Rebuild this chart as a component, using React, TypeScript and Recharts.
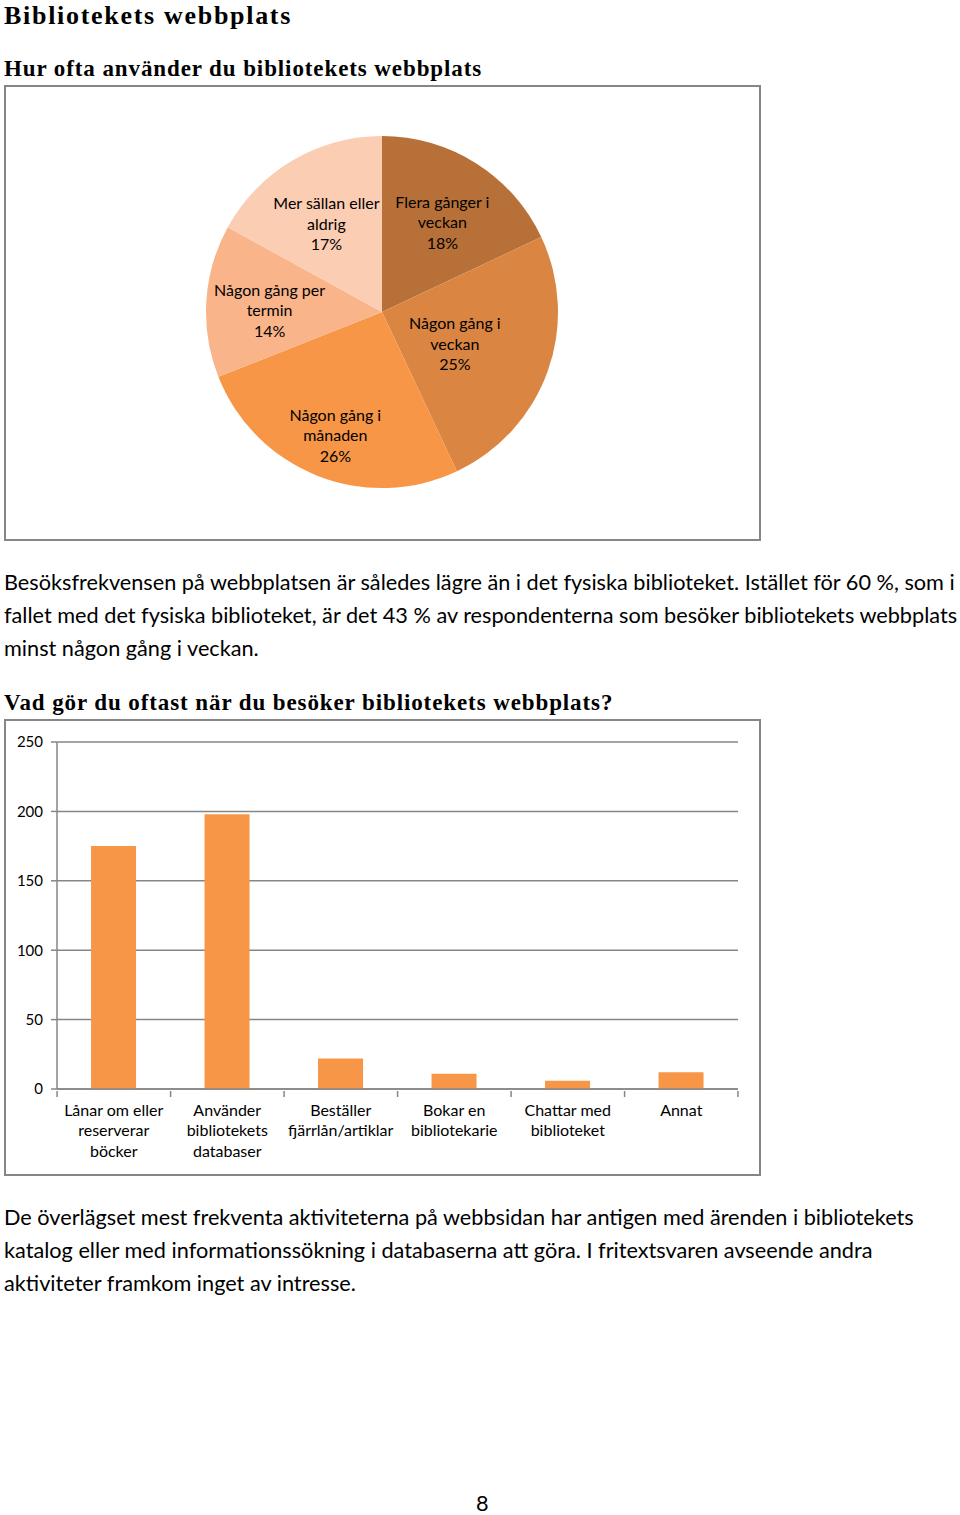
import React from "react";
import {
  PieChart,
  Pie,
  Cell,
  BarChart,
  Bar,
  XAxis,
  YAxis,
  CartesianGrid,
} from "recharts";

// pie: how often the library website is used
const freqLabels = [
  "Flera gånger i\nveckan",
  "Någon gång i\nveckan",
  "Någon gång i\nmånaden",
  "Någon gång per\ntermin",
  "Mer sällan eller\naldrig",
];
const freqShare = [18, 25, 26, 14, 17];

// bars: what people do on the website
const activityLabels = [
  "Lånar om eller\nreserverar\nböcker",
  "Använder\nbibliotekets\ndatabaser",
  "Beställer\nfjärrlån/artiklar",
  "Bokar en\nbibliotekarie",
  "Chattar med\nbiblioteket",
  "Annat",
];
const activityCount = [175, 198, 22, 11, 6, 12];
const yTicks = [0, 50, 100, 150, 200, 250];

const pieColors = ["#B77138", "#DA8541", "#F79646", "#F9B48A", "#FBCDB3"];
// excel "best fit" puts the labels at different depths
const labelDepth = [0.64, 0.44, 0.72, 0.64, 0.62];
const GRAY = "#868686";
const SANS = "Lato, 'Open Sans', sans-serif";
const SERIF = "'Liberation Serif', serif";

const pieData = freqLabels.map((name, i) => ({ name, value: freqShare[i] }));
const barData = activityLabels.map((name, i) => ({ name, value: activityCount[i] }));

const RADIAN = Math.PI / 180;

function PieLabel(props: any) {
  const { cx, cy, midAngle, outerRadius, index, name, value } = props;
  const r = outerRadius * labelDepth[index];
  const x = cx + r * Math.cos(-midAngle * RADIAN);
  const y = cy + r * Math.sin(-midAngle * RADIAN) + 5;
  const lines = [...String(name).split("\n"), value + "%"];
  const lh = 20.5;
  const y0 = y - ((lines.length - 1) * lh) / 2;
  return (
    <text x={x} y={y0} textAnchor="middle" fontFamily={SANS} fontSize={16} fill="#000">
      {lines.map((l, k) => (
        <tspan key={k} x={x} y={y0 + k * lh} dominantBaseline="central">
          {l}
        </tspan>
      ))}
    </text>
  );
}

const BAND = 680 / activityLabels.length;

function XTick(props: any) {
  const { x, y, payload, index } = props;
  const lines = String(payload.value).split("\n");
  const left = x - BAND / 2;
  return (
    <g>
      <line x1={left} x2={left} y1={y - 8} y2={y - 2} stroke={GRAY} strokeWidth={1.5} />
      {index === activityLabels.length - 1 && (
        <line x1={x + BAND / 2} x2={x + BAND / 2} y1={y - 8} y2={y - 2} stroke={GRAY} strokeWidth={1.5} />
      )}
      <text x={x} y={y} textAnchor="middle" fontFamily={SANS} fontSize={16} fill="#000">
        {lines.map((l, k) => (
          <tspan key={k} x={x} y={y + 10 + k * 20.5} dominantBaseline="central">
            {l}
          </tspan>
        ))}
      </text>
    </g>
  );
}

const box: React.CSSProperties = {
  position: "absolute",
  border: `2px solid ${GRAY}`,
  boxSizing: "border-box",
  background: "#fff",
};

const para: React.CSSProperties = {
  position: "absolute",
  left: 4,
  fontFamily: SANS,
  fontSize: 21.7,
  color: "#000",
  whiteSpace: "nowrap",
  lineHeight: "33px",
};

const heading: React.CSSProperties = {
  position: "absolute",
  left: 4,
  fontFamily: SERIF,
  fontWeight: "bold",
  fontSize: 23,
  lineHeight: "23px",
  letterSpacing: 0.9,
  whiteSpace: "nowrap",
};

export default function App() {
  return (
    <div
      style={{
        position: "absolute",
        left: 0,
        top: 0,
        width: 960,
        height: 1515,
        background: "#fff",
        overflow: "hidden",
      }}
    >
      <div style={{ ...heading, top: 1, fontSize: 26, lineHeight: "29px", letterSpacing: 1.7 }}>
        Bibliotekets webbplats
      </div>
      <div style={{ ...heading, top: 57 }}>Hur ofta använder du bibliotekets webbplats</div>

      <div style={{ ...box, left: 4, top: 85, width: 757, height: 456 }}>
        <PieChart width={753} height={452}>
          <Pie
            data={pieData}
            dataKey="value"
            nameKey="name"
            cx={371}
            cy={220}
            outerRadius={176}
            startAngle={90}
            endAngle={-270}
            stroke="none"
            labelLine={false}
            label={PieLabel}
            isAnimationActive={false}
          >
            {pieData.map((d, i) => (
              <Cell key={d.name} fill={pieColors[i]} />
            ))}
          </Pie>
        </PieChart>
      </div>

      <div style={{ ...para, top: 566 }}>
        Besöksfrekvensen på webbplatsen är således lägre än i det fysiska biblioteket. Istället för 60 %, som i
        <br />
        fallet med det fysiska biblioteket, är det 43 % av respondenterna som besöker bibliotekets webbplats
        <br />
        minst någon gång i veckan.
      </div>

      <div style={{ ...heading, top: 691 }}>Vad gör du oftast när du besöker bibliotekets webbplats?</div>

      <div style={{ ...box, left: 4, top: 719, width: 757, height: 457 }}>
        <BarChart
          width={753}
          height={453}
          data={barData}
          margin={{ top: 21, right: 21, left: 0, bottom: 15 }}
          barCategoryGap="30%"
        >
          <CartesianGrid vertical={false} stroke={GRAY} strokeWidth={1.5} />
          <XAxis
            dataKey="name"
            interval={0}
            height={70}
            axisLine={{ stroke: GRAY, strokeWidth: 1.5 }}
            tickLine={false}
            tickSize={8}
            tick={<XTick />}
          />
          <YAxis
            width={51}
            domain={[0, 250]}
            ticks={yTicks}
            axisLine={{ stroke: GRAY, strokeWidth: 1.5 }}
            tickLine={{ stroke: GRAY, strokeWidth: 1.5 }}
            tickSize={6}
            tickMargin={8}
            tick={{ fill: "#000", fontSize: 15, fontFamily: SANS }}
          />
          <Bar dataKey="value" fill="#F79646" isAnimationActive={false} />
        </BarChart>
      </div>

      <div style={{ ...para, top: 1201 }}>
        De överlägset mest frekventa aktiviteterna på webbsidan har antigen med ärenden i bibliotekets
        <br />
        katalog eller med informationssökning i databaserna att göra. I fritextsvaren avseende andra
        <br />
        aktiviteter framkom inget av intresse.
      </div>

      <div
        style={{
          position: "absolute",
          left: 476,
          top: 1492,
          fontFamily: SANS,
          fontSize: 21.7,
          lineHeight: "22px",
        }}
      >
        8
      </div>
    </div>
  );
}
